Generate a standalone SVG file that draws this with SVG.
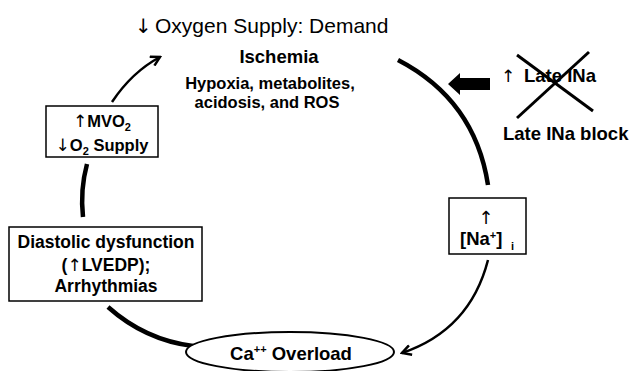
<svg xmlns="http://www.w3.org/2000/svg" width="634" height="371" viewBox="0 0 634 371">
<defs>
<style>
text{font-family:"Liberation Sans",Arial,sans-serif;fill:#000}
.b{font-weight:bold}
.ar{font-family:"DejaVu Sans",sans-serif;font-weight:normal}
.box{fill:#fff;stroke:#000;stroke-width:1.5}
.thick{fill:none;stroke:#000;stroke-width:4.5;stroke-linecap:butt}
.thin{fill:none;stroke:#000;stroke-width:2.5}
</style>
<marker id="open" viewBox="0 0 12 12" refX="10" refY="6" markerWidth="12" markerHeight="12" markerUnits="userSpaceOnUse" orient="auto">
<path d="M1,1 L10,6 L1,11" fill="none" stroke="#000" stroke-width="2.5"/>
</marker>
</defs>
<rect width="634" height="371" fill="#fff"/>
<g id="connectors">
<path class="thin" d="M112,102 Q132,72 160,57" marker-end="url(#open)"/>
<path class="thick" d="M398,60 Q475,100 488,185"/>
<path class="thick" d="M87,164 Q80,190 83,217"/>
<path class="thick" d="M108,307 Q145,340 193,346"/>
<path class="thin" d="M488,260 Q470,330 402,353" marker-end="url(#open)"/>
<polygon points="448,84 460,73 460,78 490,78 490,90 460,90 460,95" fill="#000"/>
</g>
<g id="title">
<text x="135" y="33" font-size="21"><tspan class="ar" font-size="20">↓</tspan><tspan x="155">Oxygen Supply: Demand</tspan></text>
</g>
<g id="ischemia">
<text x="279" y="63" font-size="18.5" class="b" text-anchor="middle">Ischemia</text>
<text x="270" y="89" font-size="16.5" class="b" text-anchor="middle">Hypoxia, metabolites,</text>
<text x="267" y="108" font-size="16.5" class="b" text-anchor="middle">acidosis, and ROS</text>
</g>
<g id="late-ina">
<text x="501" y="82" font-size="18.5" class="b"><tspan class="ar" font-size="17">↑</tspan><tspan x="524">Late INa</tspan></text>
<line x1="517" y1="55" x2="593" y2="111" stroke="#000" stroke-width="3"/>
<line x1="589" y1="52" x2="517" y2="118" stroke="#000" stroke-width="3"/>
<text x="503" y="140" font-size="18.5" class="b">Late INa block</text>
</g>
<g id="mvo2">
<rect class="box" x="46" y="106" width="112" height="51"/>
<text x="102" y="127" font-size="16.5" class="b" text-anchor="middle"><tspan class="ar" font-size="17">↑</tspan>MVO<tspan font-size="11" dy="4">2</tspan></text>
<text x="102" y="151" font-size="16.5" class="b" text-anchor="middle"><tspan class="ar" font-size="17">↓</tspan>O<tspan font-size="11" dy="4">2</tspan><tspan dy="-4"> Supply</tspan></text>
</g>
<g id="diastolic">
<rect class="box" x="9" y="227" width="193" height="74"/>
<text x="106" y="248" font-size="17.5" class="b" text-anchor="middle">Diastolic dysfunction</text>
<text x="106" y="271" font-size="17.5" class="b" text-anchor="middle">(<tspan class="ar" font-size="17">↑</tspan>LVEDP);</text>
<text x="106" y="292" font-size="17.5" class="b" text-anchor="middle">Arrhythmias</text>
</g>
<g id="na">
<rect class="box" x="449" y="198" width="77" height="56"/>
<text x="486" y="224" font-size="18" class="ar" text-anchor="middle">↑</text>
<text x="460" y="245" font-size="18.5" class="b">[Na<tspan font-size="11" dy="-6">+</tspan><tspan dy="6">]</tspan><tspan font-size="11" x="511" dy="5">i</tspan></text>
</g>
<g id="ca">
<ellipse cx="290" cy="352" rx="104" ry="20" fill="#fff" stroke="#000" stroke-width="2"/>
<text x="291" y="360" font-size="18.5" class="b" text-anchor="middle">Ca<tspan font-size="11" dy="-7">++</tspan><tspan dy="7"> Overload</tspan></text>
</g>
</svg>
